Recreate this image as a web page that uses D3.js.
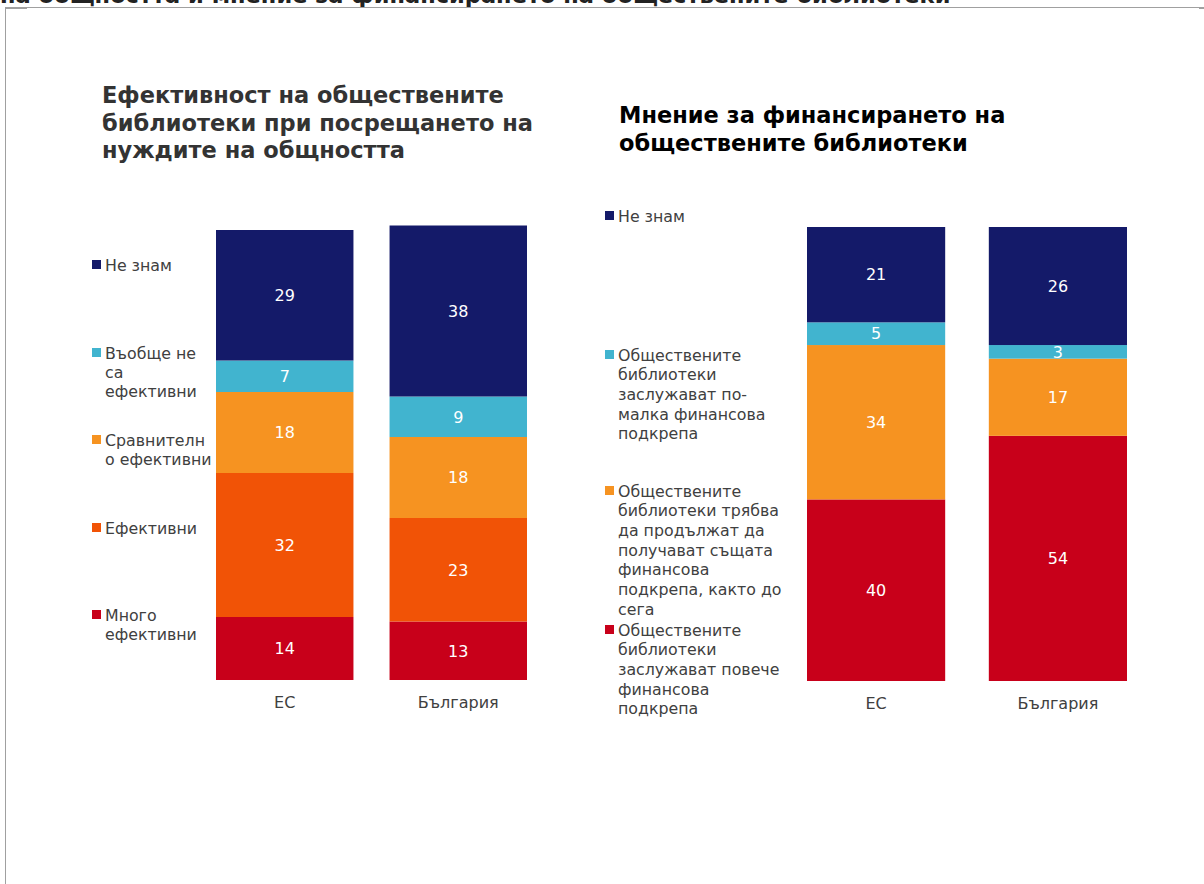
<!DOCTYPE html>
<html>
<head>
<meta charset="utf-8">
<script src="https://cdn.jsdelivr.net/npm/d3@7"></script>
<style>
  html, body { margin: 0; padding: 0; background: #fff; }
  svg { display: block; font-family: "DejaVu Sans", Verdana, sans-serif; }
</style>
</head>
<body>
<svg id="chart" width="1204" height="884"></svg>
<script>
// ---- data ----
const categories = ["ЕС", "България"];

// Left panel: effectiveness (stacked bottom → top)
const effSeries = ["Много ефективни", "Ефективни", "Сравнително ефективни", "Въобще не са ефективни", "Не знам"];
const effEU = [14, 32, 18, 7, 29];
const effBG = [13, 23, 18, 9, 38];
const effLegendLines = [
  ["Много", "ефективни"],
  ["Ефективни"],
  ["Сравнителн", "о ефективни"],
  ["Въобще не", "са", "ефективни"],
  ["Не знам"]
];

// Right panel: funding opinion (stacked bottom → top)
const fundSeries = ["Повече", "Същата", "По-малка", "Не знам"];
const fundEU = [40, 34, 5, 21];
const fundBG = [54, 17, 3, 26];
const fundLegendLines = [
  ["Обществените", "библиотеки", "заслужават повече", "финансова", "подкрепа"],
  ["Обществените", "библиотеки трябва", "да продължат да", "получават същата", "финансова", "подкрепа, както до", "сега"],
  ["Обществените", "библиотеки", "заслужават по-", "малка финансова", "подкрепа"],
  ["Не знам"]
];

const effColors = ["#c8001a", "#f15306", "#f69321", "#41b4cf", "#141a69"];
const fundColors = ["#c8001a", "#f69321", "#41b4cf", "#141a69"];

const titleTop = "на общността и мнение за финансирането на обществените библиотеки";
const titleLeft = ["Ефективност на обществените", "библиотеки при посрещането на", "нуждите на общността"];
const titleRight = ["Мнение за финансирането на", "обществените библиотеки"];

// ---- drawing ----
const svg = d3.select("#chart");
const textCol = "#404040";

// clipped page heading and frame
svg.append("text").attr("x", 0).attr("y", 3)
  .attr("font-size", 22.5).attr("font-weight", "bold").attr("fill", "#222")
  .text(titleTop);
svg.append("rect").attr("x", 0).attr("y", 7).attr("width", 1204).attr("height", 877).attr("fill", "#fff");
svg.append("line").attr("x1", 5).attr("x2", 1204).attr("y1", 7.5).attr("y2", 7.5)
  .attr("stroke", "#a0a0a0").attr("stroke-width", 1);
svg.append("line").attr("x1", 5.5).attr("x2", 5.5).attr("y1", 7).attr("y2", 884)
  .attr("stroke", "#a0a0a0").attr("stroke-width", 1);
svg.append("rect").attr("x", 5).attr("y", 7).attr("width", 22).attr("height", 2).attr("fill", "#a0a0a0");
svg.append("rect").attr("x", 1199).attr("y", 7).attr("width", 5).attr("height", 2).attr("fill", "#a0a0a0");

function panel(opts) {
  const g = svg.append("g");
  const x = d3.scaleBand().domain(categories).range(opts.xRange).paddingInner(opts.pad).paddingOuter(0);
  const y = d3.scaleLinear().domain([0, 100]).range(opts.yRange);

  const rows = categories.map((c, i) => {
    const obj = { cat: c };
    opts.series.forEach((s, j) => obj[s] = opts.values[i][j]);
    return obj;
  });
  const stack = d3.stack().keys(opts.series)(rows);

  stack.forEach((layer, j) => {
    const lg = g.append("g");
    lg.selectAll("rect").data(layer).join("rect")
      .attr("x", d => x(d.data.cat))
      .attr("width", x.bandwidth())
      .attr("y", d => y(d[1]))
      .attr("height", d => y(d[0]) - y(d[1]))
      .attr("fill", opts.colors[j]);
    lg.selectAll("text").data(layer).join("text")
      .attr("x", d => x(d.data.cat) + x.bandwidth() / 2)
      .attr("y", d => (y(d[0]) + y(d[1])) / 2)
      .attr("dy", "0.36em")
      .attr("text-anchor", "middle")
      .attr("font-size", 16)
      .attr("fill", "#fff")
      .text(d => d[1] - d[0]);
  });

  // category axis
  const axis = g.append("g").attr("transform", `translate(0,${opts.axisY})`)
    .call(d3.axisBottom(x).tickSize(0).tickPadding(0));
  axis.select(".domain").remove();
  axis.selectAll("text").attr("font-size", 16).attr("fill", textCol)
    .attr("font-family", "DejaVu Sans, Verdana, sans-serif").attr("dy", "0.36em");

  // title
  const t = g.append("text").attr("font-size", opts.titleSize).attr("font-weight", "bold")
    .attr("fill", opts.titleColor);
  opts.title.forEach((line, i) => {
    t.append("tspan").attr("x", opts.titleX).attr("y", opts.titleY + i * opts.titleLH).text(line);
  });

  // legend
  opts.legendLines.forEach((lines, j) => {
    const ly = opts.legendY[j];
    g.append("rect").attr("x", opts.legendX).attr("y", ly - 5).attr("width", 9).attr("height", 9)
      .attr("fill", opts.colors[j]);
    const lt = g.append("text").attr("font-size", 15.8).attr("fill", textCol);
    lines.forEach((line, k) => {
      lt.append("tspan").attr("x", opts.legendX + 13).attr("y", ly + k * opts.legendLH)
        .attr("dy", "0.36em").text(line);
    });
  });
}

panel({
  series: effSeries,
  values: [effEU, effBG],
  colors: effColors,
  xRange: [216, 527], pad: 0.208,
  yRange: [680, 230],
  axisY: 702,
  title: titleLeft, titleX: 102, titleY: 103, titleLH: 27.5, titleSize: 22.5, titleColor: "#333",
  legendLines: effLegendLines,
  legendX: 92, legendY: [615, 528, 440, 353, 265], legendLH: 19.2
});

panel({
  series: fundSeries,
  values: [fundEU, fundBG],
  colors: fundColors,
  xRange: [807, 1127], pad: 0.24,
  yRange: [681, 227],
  axisY: 703,
  title: titleRight, titleX: 619, titleY: 123, titleLH: 27.5, titleSize: 22.5, titleColor: "#000",
  legendLines: fundLegendLines,
  legendX: 605, legendY: [630, 491, 355, 216], legendLH: 19.7
});
</script>
</body>
</html>
